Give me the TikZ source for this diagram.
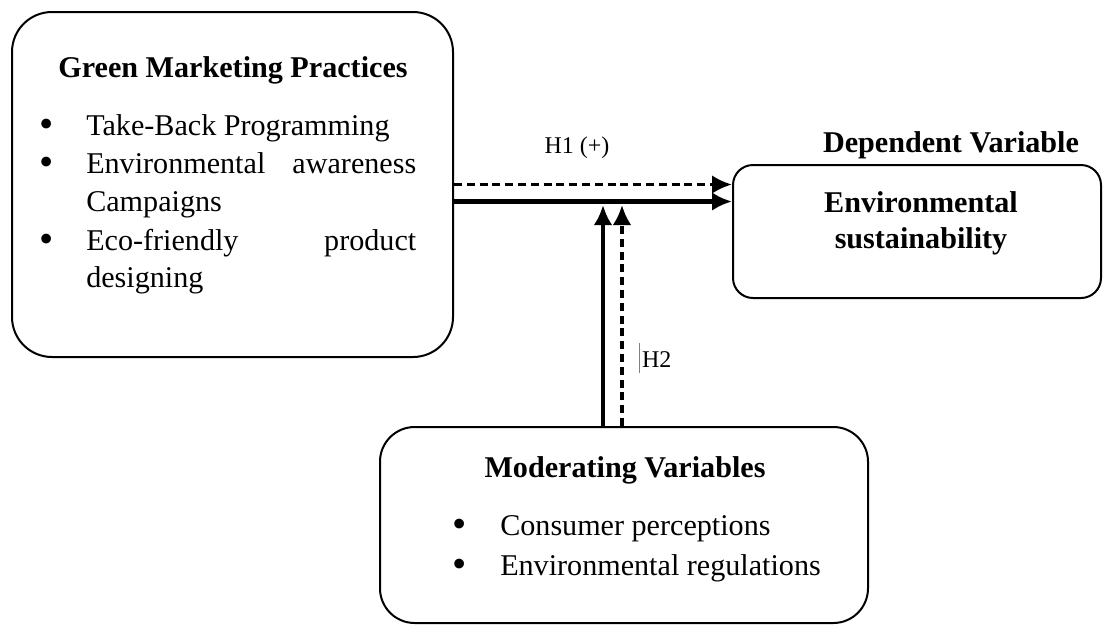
\documentclass[tikz,border=0pt]{standalone}
\usepackage{graphicx}
\usepackage{fontspec}
\setmainfont{Liberation Serif}
\usetikzlibrary{arrows.meta,fit,calc}

\begin{document}
\begin{tikzpicture}[x=0.75pt,y=-0.75pt,font=\fontsize{22.6}{29}\selectfont]

\tikzset{box/.style = {draw, line width=1.5pt, inner sep=0pt}}
\tikzset{txt/.style = {inner sep=0pt, anchor=base west}}
\tikzset{dot/.style = {inner sep=0pt, anchor=base}}
\tikzset{head/.style = {inner sep=0pt, anchor=base, font=\fontsize{22.6}{29}\selectfont\bfseries}}
\tikzset{lab/.style = {inner sep=0pt, anchor=base, font=\fontsize{18}{22}\selectfont}}
\tikzset{arc/.style = {-{Latex[length=15pt,width=14pt]}, line width=3.3pt}}
\tikzset{dasharc/.style = {arc, line width=2.7pt, dash pattern=on 6pt off 3.6pt}}
\newcommand{\bul}{\raisebox{-1.5pt}{\scalebox{1.35}{\textbullet}}}

\useasboundingbox (0,0) rectangle (1104,626);

% boxes
\node[box, rounded corners=30pt, fit={(12,12) (453,357)}] (gmp) {};
\node[box, rounded corners=15pt, fit={(733,165) (1101,298)}] (dv) {};
\node[box, rounded corners=26pt, fit={(380,427) (868,623)}] (mv) {};

% headings
\node[head] (gmph) at (233,77) {Green Marketing Practices};
\node[head] (dvh) at (951,152) {Dependent Variable};
\node[head] (dv1) at (921,212) {Environmental};
\node[head] (dv2) at (921,248) {sustainability};
\node[head] (mvh) at (625,477) {Moderating Variables};

% practices
\node[dot] (gb1) at (47,135) {\bul};
\node[dot] (gb2) at (47,173) {\bul};
\node[dot] (gb3) at (47,250) {\bul};
\node[txt] (g1) at (86,135) {Take-Back Programming};
\node[txt] (g2) at (86,173) {\makebox[247.5pt][s]{Environmental awareness}};
\node[txt] (g3) at (86,211) {Campaigns};
\node[txt] (g4) at (86,250) {\makebox[247.5pt][s]{Eco-friendly product}};
\node[txt] (g5) at (86,287) {designing};

% moderators
\node[dot] (mb1) at (460,535) {\bul};
\node[dot] (mb2) at (460,575) {\bul};
\node[txt] (m1) at (500,535) {Consumer perceptions};
\node[txt] (m2) at (500,575) {Environmental regulations};

% hypotheses
\node[lab] (h1) at (577,153) {H1 (+)};
\node[lab, anchor=base west] (h2) at (639,367) {\textcolor{gray}{\rule[-4.5pt]{0.6pt}{22.5pt}}\hspace{1.5pt}H2};

% arcs
\coordinate (s1) at ($(gmp.east)+(0,17)$);
\coordinate (jn1) at (603,205);
\coordinate (jn2) at (622,205);
\draw[dasharc] (gmp.east) -- (gmp.east -| dv.west);
\draw[arc] (s1) -- (s1 -| dv.west);
\draw[arc] (mv.north -| jn1) -- (jn1);
\draw[dasharc] (mv.north -| jn2) -- (jn2);

\end{tikzpicture}
\end{document}
